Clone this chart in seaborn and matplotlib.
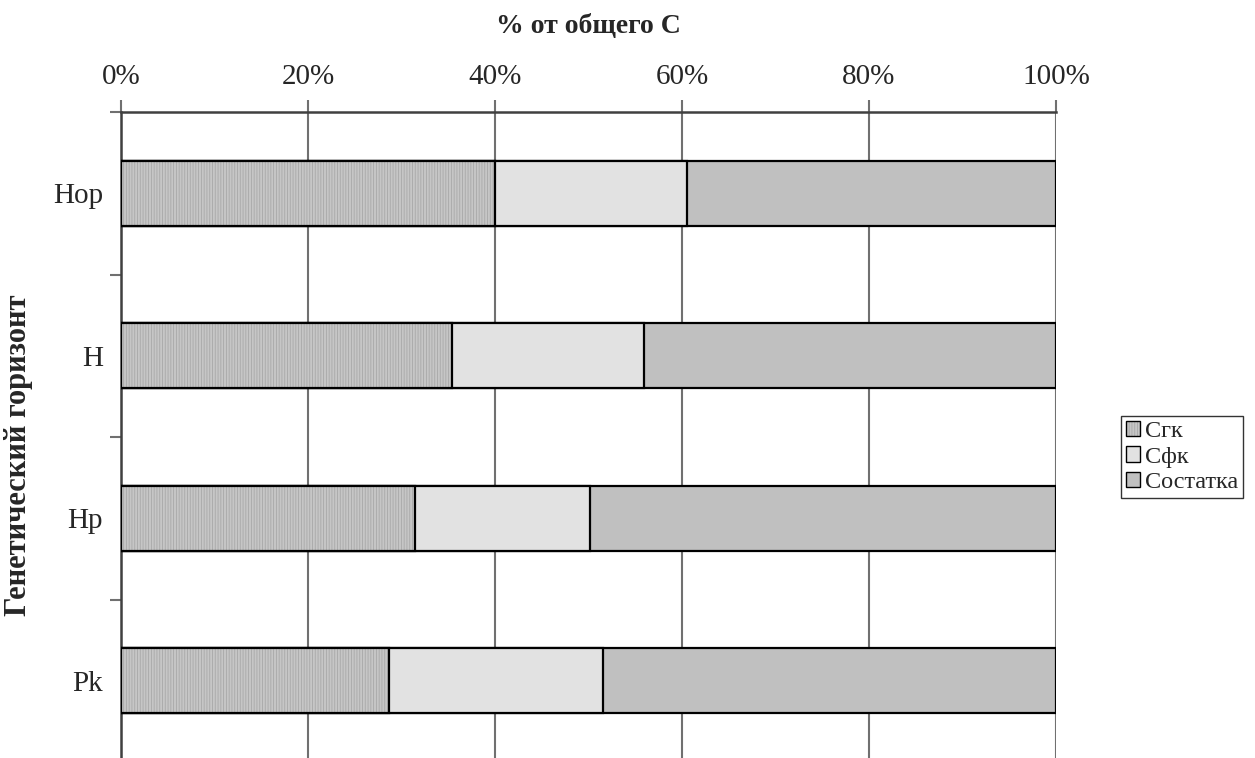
import numpy as np
import pandas as pd
import matplotlib
matplotlib.use("Agg")
import matplotlib.pyplot as plt
from matplotlib.patches import Patch
from matplotlib.ticker import FixedLocator, PercentFormatter
import seaborn as sns

# Доли фракций углерода по горизонтам, % от общего C
horizons = ["Hop", "H", "Hp", "Pk"]
c_gk = [40.0, 35.4, 31.4, 28.7]
c_fk = [20.5, 20.5, 18.8, 22.9]
c_rest = [39.5, 44.1, 49.8, 48.4]
series_names = ["Сгк", "Сфк", "Состатка"]

sns.set_theme(style="white")
plt.rcParams["font.family"] = ["Liberation Serif", "DejaVu Serif"]
plt.rcParams["hatch.linewidth"] = 0.6
plt.rcParams["hatch.color"] = "#a8a8a8"

df = pd.DataFrame({"horizon": horizons, "gk": c_gk, "fk": c_fk, "rest": c_rest})
df["cum_gk"] = df["gk"]
df["cum_fk"] = df["gk"] + df["fk"]
df["cum_rest"] = df["gk"] + df["fk"] + df["rest"]

W, H = 1255, 758
fig = plt.figure(figsize=(W / 100, H / 100), dpi=100)
ax = fig.add_axes([121 / W, (H - 762) / H, 935 / W, 650 / H])

colors = {"gk": "#c6c6c6", "fk": "#e2e2e2", "rest": "#c0c0c0"}
gk_hatch = "||||||"
hatch_rgba = matplotlib.colors.to_rgba("#a8a8a8")

# stacked bars: draw cumulative totals from the widest down
for key in ["rest", "fk", "gk"]:
    sns.barplot(data=df, x="cum_" + key, y="horizon", orient="h", ax=ax,
                color=colors[key], saturation=1, width=0.4,
                edgecolor="black", linewidth=1.6, zorder=3)
n = len(horizons)
for patch in ax.patches:
    patch.set_zorder(3)
for patch in ax.patches[-n:]:
    patch.set_hatch(gk_hatch)
    patch._hatch_color = hatch_rgba

ax.set_xlim(0, 100)
ax.set_ylim(n - 0.5, -0.5)

# x axis on top, Excel-like grid
ax.xaxis.set_ticks_position("top")
ax.xaxis.set_label_position("top")
ax.set_xticks([0, 20, 40, 60, 80, 100])
ax.xaxis.set_major_formatter(PercentFormatter(decimals=0))
ax.tick_params(axis="x", which="major", direction="out", length=9, width=1.5,
               color="#707070", labelsize=21, pad=7, top=True, bottom=False)
ax.grid(axis="x", color="#707070", linewidth=1.5, zorder=0)
ax.set_axisbelow(True)

# category ticks between bands
ax.tick_params(axis="y", which="major", length=0, labelsize=21, pad=13)
ax.yaxis.set_minor_locator(FixedLocator(np.arange(-0.5, n + 0.5, 1.0)))
ax.tick_params(axis="y", which="minor", direction="out", length=8, width=1.5,
               color="#707070", left=True)

ax.set_xlabel("")
ax.set_ylabel("")
for side in ["right", "bottom"]:
    ax.spines[side].set_visible(False)
ax.spines["left"].set_color("#404040")
ax.spines["left"].set_linewidth(1.8)
ax.spines["top"].set_color("#404040")
ax.spines["top"].set_linewidth(1.8)

fig.text(588 / W, 1 - 26 / H, "% от общего С", ha="center", va="center",
         fontsize=20, fontweight="bold")
fig.text(19 / W, 1 - 455 / H, "Генетический горизонт", ha="center", va="center",
         rotation=90, fontsize=22, fontweight="bold")

handles = [
    Patch(facecolor=colors["gk"], edgecolor="black", hatch=gk_hatch, label=series_names[0]),
    Patch(facecolor=colors["fk"], edgecolor="black", label=series_names[1]),
    Patch(facecolor=colors["rest"], edgecolor="black", label=series_names[2]),
]
leg = fig.legend(handles=handles, loc="center left",
                 bbox_to_anchor=(1121 / W, 1 - 457 / H), fontsize=17.5,
                 frameon=True, fancybox=False, edgecolor="black",
                 handlelength=0.6, handleheight=0.6, handletextpad=0.2,
                 borderpad=0.2, labelspacing=0.18, borderaxespad=0)
leg.get_frame().set_linewidth(1.0)
for h in leg.legend_handles:
    h._hatch_color = hatch_rgba

fig.savefig("out.png", dpi=100, facecolor="white")
